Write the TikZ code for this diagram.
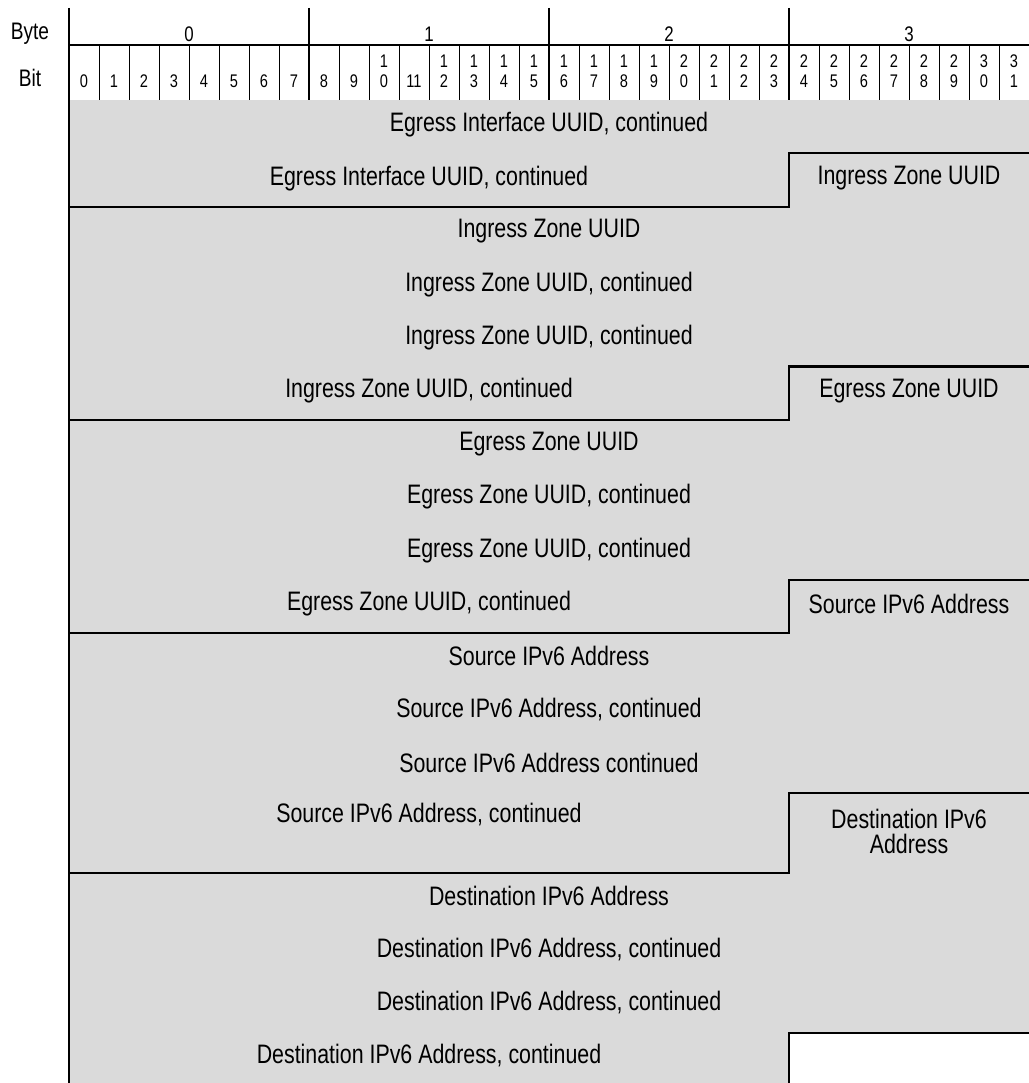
\documentclass[tikz,border=0pt]{standalone}
\usepackage{fontspec}
\setmainfont{Liberation Sans}[FakeStretch=0.8]
\usepackage{xcolor}
\usepackage{tikz}
\definecolor{fieldgray}{RGB}{218,218,218}
\tikzset{frame/.style={line width=1.5pt, color=black},
	bitline/.style={line width=0.6pt, color=black},
	field/.style={inner sep=0pt, align=center, font=\fontsize{19}{18}\selectfont},
	bitnum/.style={inner sep=0pt, anchor=south, align=center, font=\fontsize{13}{14.2}\selectfont},
	bytenum/.style={inner sep=0pt, font=\fontsize{15}{18}\selectfont},
	rowhead/.style={inner sep=0pt, font=\fontsize{17}{20}\selectfont}}

\begin{document}
\begin{tikzpicture}[x=0.75cm, y=-1.3325cm, line join=miter]
		\useasboundingbox (-2.3,-1.876) rectangle (31.967,18.443);
		% shaded payload, open slot in the last word
		\fill[fieldgray] (0,0) rectangle (32.2,18.6);
		\fill[white] (24,17.5) rectangle (32.2,18.6);
		% byte and bit header
		\foreach \b in {1,...,31} {
			\draw[bitline] (\b,-1.032) -- (\b,0);
		}
		\draw[frame] (0,-1.032) -- (32.2,-1.032);
		\foreach \k in {1,2,3} {
			\draw[frame] (8*\k,-1.726) -- (8*\k,0);
		}
		\draw[frame] (0,-1.726) -- (0,18.6);
		\node[rowhead] (bytehead) at (-1.3,-1.25) {Byte};
		\node[rowhead] (bithead) at (-1.3,-0.42) {Bit};
		\foreach \k in {0,...,3} {
			\node[bytenum] (byte\k) at (8*\k+4,-1.238) {\k};
		}
		\foreach \b in {0,...,31} {
			\pgfmathtruncatemacro{\hi}{\b/10}
			\pgfmathtruncatemacro{\lo}{mod(\b,10)}
			\ifnum\b<10 \def\lbl{\b}\else\ifnum\b=11 \def\lbl{11}\else\def\lbl{\hi\\\lo}\fi\fi
			\node[bitnum] (bit\b) at (\b+0.5,-0.225) {\lbl};
		}
		% field boundaries, each step hands the last byte to the next field
		\foreach \t/\u in {1/2, 5/6, 9/10, 13/14.5} {
			\draw[frame] (0,\u) -- (24,\u) -- (24,\t) -- (32.2,\t);
		}
		\draw[frame] (24,18.6) -- (24,17.5) -- (32.2,17.5);
		% field labels
		\node[field] (eif1) at (16,0.47) {Egress Interface UUID, continued};
		\node[field] (eif2) at (12,1.47) {Egress Interface UUID, continued};
		\node[field] (izu1) at (28,1.47) {Ingress Zone UUID};
		\node[field] (izu2) at (16,2.46) {Ingress Zone UUID};
		\node[field] (izc1) at (16,3.46) {Ingress Zone UUID, continued};
		\node[field] (izc2) at (16,4.46) {Ingress Zone UUID, continued};
		\node[field] (izc3) at (12,5.46) {Ingress Zone UUID, continued};
		\node[field] (ezu1) at (28,5.46) {Egress Zone UUID};
		\node[field] (ezu2) at (16,6.45) {Egress Zone UUID};
		\node[field] (ezc1) at (16,7.45) {Egress Zone UUID, continued};
		\node[field] (ezc2) at (16,8.45) {Egress Zone UUID, continued};
		\node[field] (ezc3) at (12,9.45) {Egress Zone UUID, continued};
		\node[field] (src1) at (28,9.45) {Source IPv6 Address};
		\node[field] (src2) at (16,10.44) {Source IPv6 Address};
		\node[field] (srcc1) at (16,11.44) {Source IPv6 Address, continued};
		\node[field] (srcc2) at (16,12.44) {Source IPv6 Address continued};
		\node[field] (srcc3) at (12,13.41) {Source IPv6 Address, continued};
		\node[field] (dst1) at (28,13.72) {Destination IPv6\\Address};
		\node[field] (dst2) at (16,14.93) {Destination IPv6 Address};
		\node[field] (dstc1) at (16,15.93) {Destination IPv6 Address, continued};
		\node[field] (dstc2) at (16,16.93) {Destination IPv6 Address, continued};
		\node[field] (dstc3) at (12,17.92) {Destination IPv6 Address, continued};
	\end{tikzpicture}
\end{document}
